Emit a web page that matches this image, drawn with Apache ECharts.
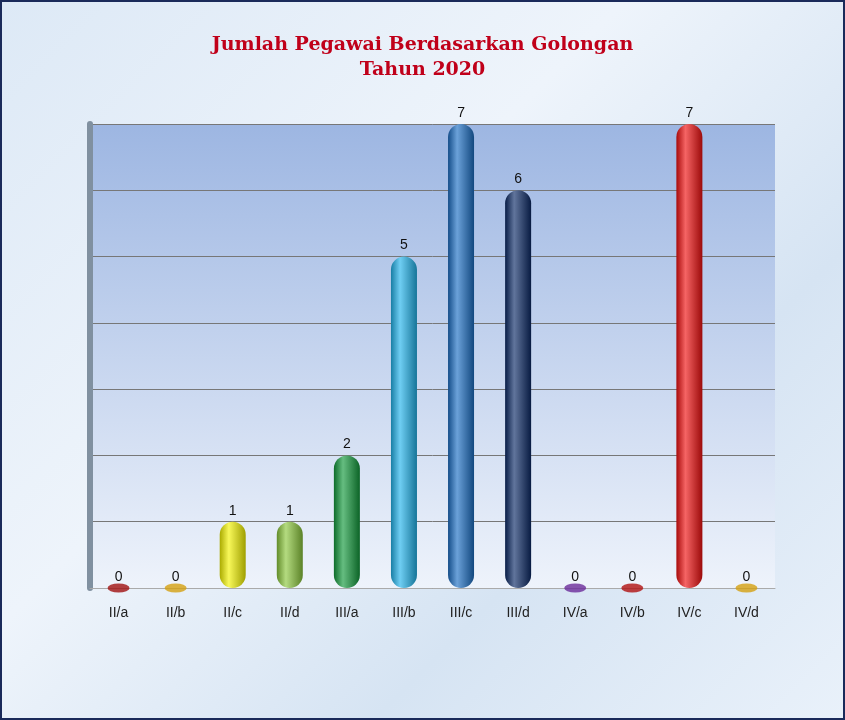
<!DOCTYPE html>
<html><head><meta charset="utf-8">
<script src="https://cdn.jsdelivr.net/npm/echarts@6/dist/echarts.min.js"></script>
<style>
html,body{margin:0;padding:0;}
#c{width:845px;height:720px;box-sizing:border-box;border:2px solid #1a2a5a;
background:linear-gradient(135deg,#dde9f6 0%,#eef4fb 40%,#d6e4f3 70%,#e9f1fa 100%);}
</style></head><body><div id="c"></div>
<script>
const categories=["II/a","II/b","II/c","II/d","III/a","III/b","III/c","III/d","IV/a","IV/b","IV/c","IV/d"];
const values=[0,0,1,1,2,5,7,6,0,0,7,0];
const colors=["#a01010","#d4a010","#f4f400","#8cc83c","#129a3c","#22b4ec","#1c6ec4","#0c2a66","#6a2a9a","#b01010","#f01010","#d4a010"];
function shade(c,f){let n=parseInt(c.slice(1),16);let r=n>>16,g=(n>>8)&255,b=n&255;
 const m=x=>Math.max(0,Math.min(255,Math.round(f>0?x+(255-x)*f:x*(1+f))));
 return "rgb("+m(r)+","+m(g)+","+m(b)+")";}
const chart=echarts.init(document.getElementById('c'));
chart.setOption({
 title:{text:"Jumlah Pegawai Berdasarkan Golongan\nTahun 2020",left:'center',top:26,
  textStyle:{color:'#c0001a',fontFamily:'DejaVu Serif',fontWeight:'bold',fontSize:19,lineHeight:25}},
 grid:{left:88,right:68,top:122,bottom:130},
 xAxis:{type:'category',data:categories,axisTick:{show:false},
  axisLine:{lineStyle:{color:'#aaa'}},
  axisLabel:{color:'#222',fontSize:14,margin:18,fontFamily:'Liberation Sans'}},
 yAxis:{type:'value',min:0,max:7,interval:1,axisLabel:{show:false},
  axisLine:{show:true,lineStyle:{color:'#8090a0',width:6}},
  splitLine:{lineStyle:{color:'#777',width:1}},
  splitArea:{show:false}},
 graphic:[{type:'rect',z:-1,shape:{x:88,y:122,width:845-88-68-4,height:720-122-130-4},
  style:{fill:{type:'linear',x:0,y:0,x2:0,y2:1,colorStops:[{offset:0,color:'#9db6e2'},{offset:1,color:'#eef3fb'}]}}}],
 series:[{type:'bar',barWidth:26,
  data:values.map((v,i)=>({value:v,itemStyle:{borderRadius:[13,13,13,13],
   color:{type:'linear',x:0,y:0,x2:1,y2:0,colorStops:[{offset:0,color:shade(colors[i],-0.3)},{offset:0.35,color:shade(colors[i],0.35)},{offset:1,color:shade(colors[i],-0.35)}]}}})),
  label:{show:true,position:'top',color:'#111',fontSize:14,fontFamily:'Liberation Sans',distance:4}},
  {type:'scatter',symbol:'path://M0,5a10,5 0 1,0 20,0a10,5 0 1,0 -20,0z',symbolKeepAspect:false,symbolSize:[22,9],
   data:values.map((v,i)=>v===0?{value:[i,0],itemStyle:{color:colors[i]}}:null).filter(x=>x),
   silent:true}]
});
</script></body></html>
